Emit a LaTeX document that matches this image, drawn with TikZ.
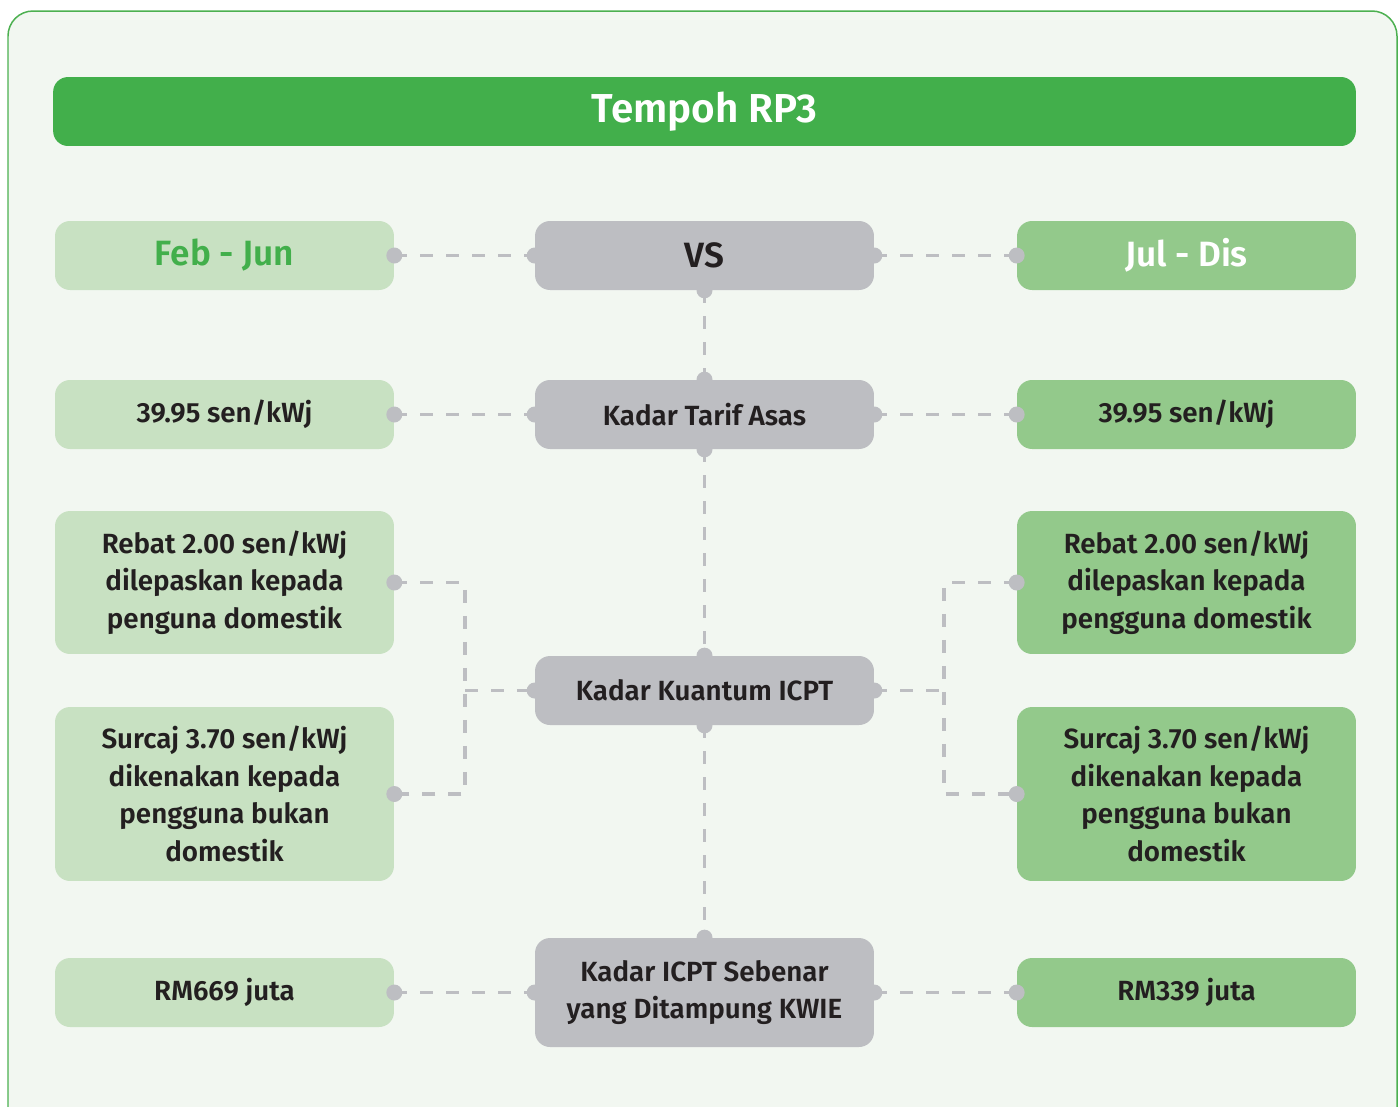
\documentclass[tikz,border=0pt]{standalone}
\usepackage{fontspec}
\setmainfont{Fira Sans}[BoldFont = {Fira Sans SemiBold}]
\usetikzlibrary{positioning}

\definecolor{rpgreen}{HTML}{42AF4B}
\definecolor{rpframe}{HTML}{4CB050}
\definecolor{rpback}{HTML}{F2F7F1}
\definecolor{rpleft}{HTML}{C8E1C2}
\definecolor{rpright}{HTML}{93C98B}
\definecolor{rpgray}{HTML}{BDBEC2}
\definecolor{rptext}{HTML}{231F20}

\tikzset{box/.style = {rectangle, rounded corners = 0.3cm,
    minimum width = 6.78cm, minimum height = 1.38cm,
    inner sep = 0pt, align = center, text = rptext,
    font = \fontsize{15.8}{21.3}\selectfont\bfseries
    }
}
\tikzset{leftbox/.style = {box, fill = rpleft}}
\tikzset{rightbox/.style = {box, fill = rpright}}
\tikzset{midbox/.style = {box, fill = rpgray}}
\tikzset{headbox/.style = {box, font = \fontsize{20}{22}\selectfont\bfseries}}

\begin{document}
\begin{tikzpicture}[x = 0.02cm, y = -0.02cm]

    \tikzset{link/.style = {draw = rpgray, line width = 0.075cm, dash pattern = on 0.26cm off 0.26cm}}
    \tikzset{dot/.style = {fill = rpgray}}

    \useasboundingbox (0,0) rectangle (1399,1106);

    % frame and title
    \draw[rpframe, fill = rpback, line width = 0.03cm, rounded corners = 0.5cm]
    (8,11) rectangle (1397,1140);
    \node (title) [fill = rpgreen, rounded corners = 0.3cm, minimum width = 26.06cm,
        minimum height = 1.38cm, text = white,
        font = \fontsize{23}{26}\selectfont\bfseries] at (704.5,111.5) {Tempoh RP3};

    % left column
    \node (febjun) [leftbox, headbox, fill = rpleft, text = rpgreen] at (224.5,255.5) {Feb - Jun};
    \node (asasL) [leftbox] at (224.5,414.5) {39.95 sen/kWj};
    \node (rebatL) [leftbox, minimum height = 2.86cm] at (224.5,582.5)
    {Rebat 2.00 sen/kWj\\dilepaskan kepada\\penguna domestik};
    \node (surcajL) [leftbox, minimum height = 3.48cm] at (224.5,794)
    {Surcaj 3.70 sen/kWj\\dikenakan kepada\\pengguna bukan\\domestik};
    \node (jutaL) [leftbox] at (224.5,992.5) {RM669 juta};

    % middle column
    \node (vs) [midbox, headbox, fill = rpgray] at (704.5,255.5) {VS};
    \node (asas) [midbox] at (704.5,414.5) {Kadar Tarif Asas};
    \node (kuantum) [midbox] at (704.5,690.5) {Kadar Kuantum ICPT};
    \node (sebenar) [midbox, minimum height = 2.18cm] at (704.5,992.5)
    {Kadar ICPT Sebenar\\yang Ditampung KWIE};

    % right column
    \node (juldis) [rightbox, headbox, fill = rpright, text = white] at (1186.5,255.5) {Jul - Dis};
    \node (asasR) [rightbox] at (1186.5,414.5) {39.95 sen/kWj};
    \node (rebatR) [rightbox, minimum height = 2.86cm] at (1186.5,582.5)
    {Rebat 2.00 sen/kWj\\dilepaskan kepada\\pengguna domestik};
    \node (surcajR) [rightbox, minimum height = 3.48cm] at (1186.5,794)
    {Surcaj 3.70 sen/kWj\\dikenakan kepada\\pengguna bukan\\domestik};
    \node (jutaR) [rightbox] at (1186.5,992.5) {RM339 juta};

    \coordinate (brL) at (465,690.5);
    \coordinate (brR) at (944,690.5);

    % connectors
    \draw[link] (febjun.east) -- (vs.west);
    \draw[link] (vs.east) -- (juldis.west);
    \draw[link] (asasL.east) -- (asas.west);
    \draw[link] (asas.east) -- (asasR.west);
    \draw[link] (jutaL.east) -- (sebenar.west);
    \draw[link] (sebenar.east) -- (jutaR.west);
    \draw[link] (vs.south) -- (asas.north);
    \draw[link] (asas.south) -- (kuantum.north);
    \draw[link] (kuantum.south) -- (sebenar.north);
    \draw[link] (rebatL.east) -| (brL) |- (surcajL.east);
    \draw[link] (brL) -- (kuantum.west);
    \draw[link] (rebatR.west) -| (brR) |- (surcajR.west);
    \draw[link] (kuantum.east) -- (brR);

    % end dots
    \foreach \p in {febjun.east, asasL.east, rebatL.east, surcajL.east, jutaL.east,
        juldis.west, asasR.west, rebatR.west, surcajR.west, jutaR.west,
        vs.west, vs.east, vs.south,
        asas.west, asas.east, asas.north, asas.south,
        kuantum.west, kuantum.east, kuantum.north, kuantum.south,
        sebenar.west, sebenar.east, sebenar.north}
    \fill[dot] (\p) circle (0.16cm);

\end{tikzpicture}
\end{document}
